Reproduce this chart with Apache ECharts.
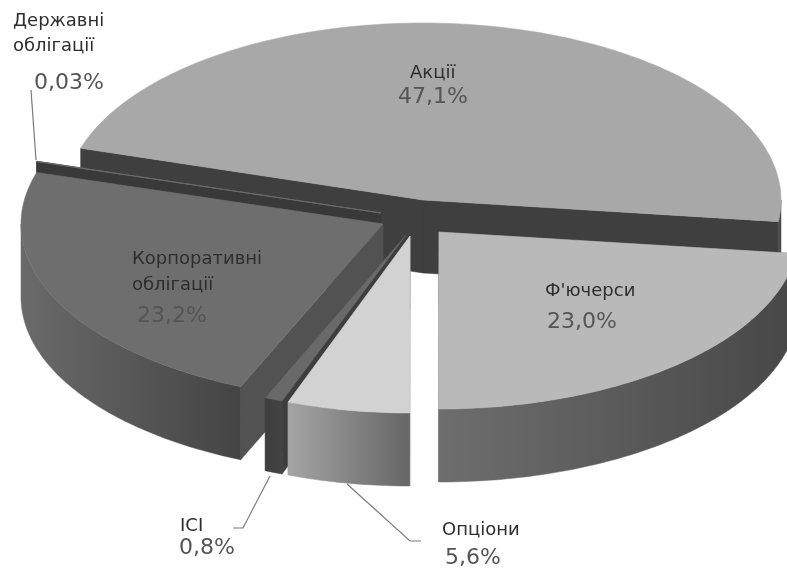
<!DOCTYPE html>
<html><head><meta charset="utf-8">
<style>html,body{margin:0;padding:0;background:#fff}#c{width:787px;height:569px}</style>
<script src="https://cdn.jsdelivr.net/npm/echarts@6/dist/echarts.min.js"></script>
</head><body><div id="c"></div>
<script>
// Data, clockwise from the first slice
const categories = ['Акції', "Ф'ючерси", 'Опціони', 'ICI', 'Корпоративні облігації', 'Державні облігації'];
const values = [47.1, 23.0, 5.6, 0.8, 23.2, 0.03];
const valueLabels = ['47,1%', '23,0%', '5,6%', '0,8%', '23,2%', '0,03%'];
const nameLines = [['Акції'], ["Ф'ючерси"], ['Опціони'], ['ICI'], ['Корпоративні', 'облігації'], ['Державні', 'облігації']];

// Appearance and layout
const firstAngle = 287, depth = 73, radiusY = 177;
const centers = [[423, 200], [439, 232], [410, 236], [406, 235], [383, 224], [381, 213]];
const radiiX = [358, 360, 352, 358, 362, 360];
const paintOrder = [0, 5, 4, 3, 2, 1];
const topFill = ['#a8a8a8', '#b9b9b9', '#d2d2d2', '#696969', '#6e6e6e', '#7a7a7a'];
const cutFill = ['#3f3f3f', '#6a6a6a', '#8a8a8a', '#3e3e3e', '#525252', '#393939'];
const wallFill = [['#4a4a4a', '#4a4a4a'], ['#6e6e6e', '#474747'], ['#a4a4a4', '#666666'], ['#3e3e3e', '#444444'], ['#6a6a6a', '#444444'], ['#393939', '#393939']];
const textLayout = [
  {x: 410, y: 64, px: 398, py: 86},
  {x: 545, y: 282, px: 547, py: 311},
  {x: 442, y: 521, px: 445, py: 547},
  {x: 180, y: 517, px: 179, py: 537},
  {x: 132, y: 250, px: 137, py: 305, lh: 26},
  {x: 13, y: 12, px: 34, py: 72, lh: 25}
];
const leaderLines = [
  [[31, 90], [36, 160]],
  [[233, 528], [243, 528], [270, 476]],
  [[421, 541], [410, 541], [347, 484]]
];

const total = values.reduce((a, b) => a + b, 0);
const starts = [];
values.reduce((acc, v, i) => { starts[i] = acc; return acc + v / total * 360; }, firstAngle);

function pt(i, deg, drop) {
  const r = deg * Math.PI / 180;
  return [centers[i][0] + radiiX[i] * Math.sin(r), centers[i][1] - radiusY * Math.cos(r) + (drop || 0)];
}
function arc(i, a, b, drop) {
  const out = [], n = Math.max(2, Math.ceil(Math.abs(b - a)));
  for (let k = 0; k <= n; k++) out.push(pt(i, a + (b - a) * k / n, drop));
  return out;
}
function poly(points, fill, z2, stroke) {
  return {type: 'polygon', shape: {points}, z2, silent: true,
    style: {fill, stroke: stroke || fill, lineWidth: stroke ? 1 : 0.5}};
}
function renderSlice(params, api) {
  const i = api.value(1), a = starts[i], b = a + api.value(0) / total * 360;
  const base = paintOrder.indexOf(i) * 10, c = centers[i], children = [];
  [a, b].forEach(d => {
    const p = pt(i, d);
    children.push(poly([c, p, [p[0], p[1] + depth], [c[0], c[1] + depth]], cutFill[i], base));
  });
  // Outer wall: only the front half of the rim is drawn
  for (const shift of [0, 360, -360]) {
    const lo = Math.max(a + shift, 90), hi = Math.min(b + shift, 270);
    if (hi > lo) {
      children.push(poly(arc(i, lo, hi).concat(arc(i, hi, lo, depth)),
        {type: 'linear', x: 0, y: 0, x2: 1, y2: 0,
         colorStops: [{offset: 0, color: wallFill[i][0]}, {offset: 1, color: wallFill[i][1]}]}, base + 1));
    }
  }
  children.push(poly([c].concat(arc(i, a, b)), topFill[i], base + 2, i === 5 ? '#6a6a6a' : null));
  return {type: 'group', children};
}

const font = '"DejaVu Sans", Verdana, sans-serif';
const graphics = [];
leaderLines.forEach(points => graphics.push({type: 'polyline', shape: {points}, z: 20, silent: true,
  style: {fill: null, stroke: '#7a7a7a', lineWidth: 1.2}}));
categories.forEach((c, i) => {
  const t = textLayout[i];
  nameLines[i].forEach((line, k) => graphics.push({type: 'text', x: t.x, y: t.y + k * (t.lh || 0), z: 20, silent: true,
    style: {text: line, fill: '#2e2e2e', font: '18px ' + font}}));
  graphics.push({type: 'text', x: t.px, y: t.py, z: 20, silent: true,
    style: {text: valueLabels[i], fill: '#555555', font: '22px ' + font}});
});

const chart = echarts.init(document.getElementById('c'), null, {renderer: 'canvas'});
chart.setOption({
  animation: false,
  backgroundColor: '#ffffff',
  tooltip: {show: false},
  graphic: {elements: graphics},
  series: [{
    type: 'custom',
    coordinateSystem: 'none',
    clip: false,
    renderItem: renderSlice,
    encode: {value: 0, itemName: 2},
    data: values.map((v, i) => [v, i, categories[i]])
  }]
});
</script></body></html>
